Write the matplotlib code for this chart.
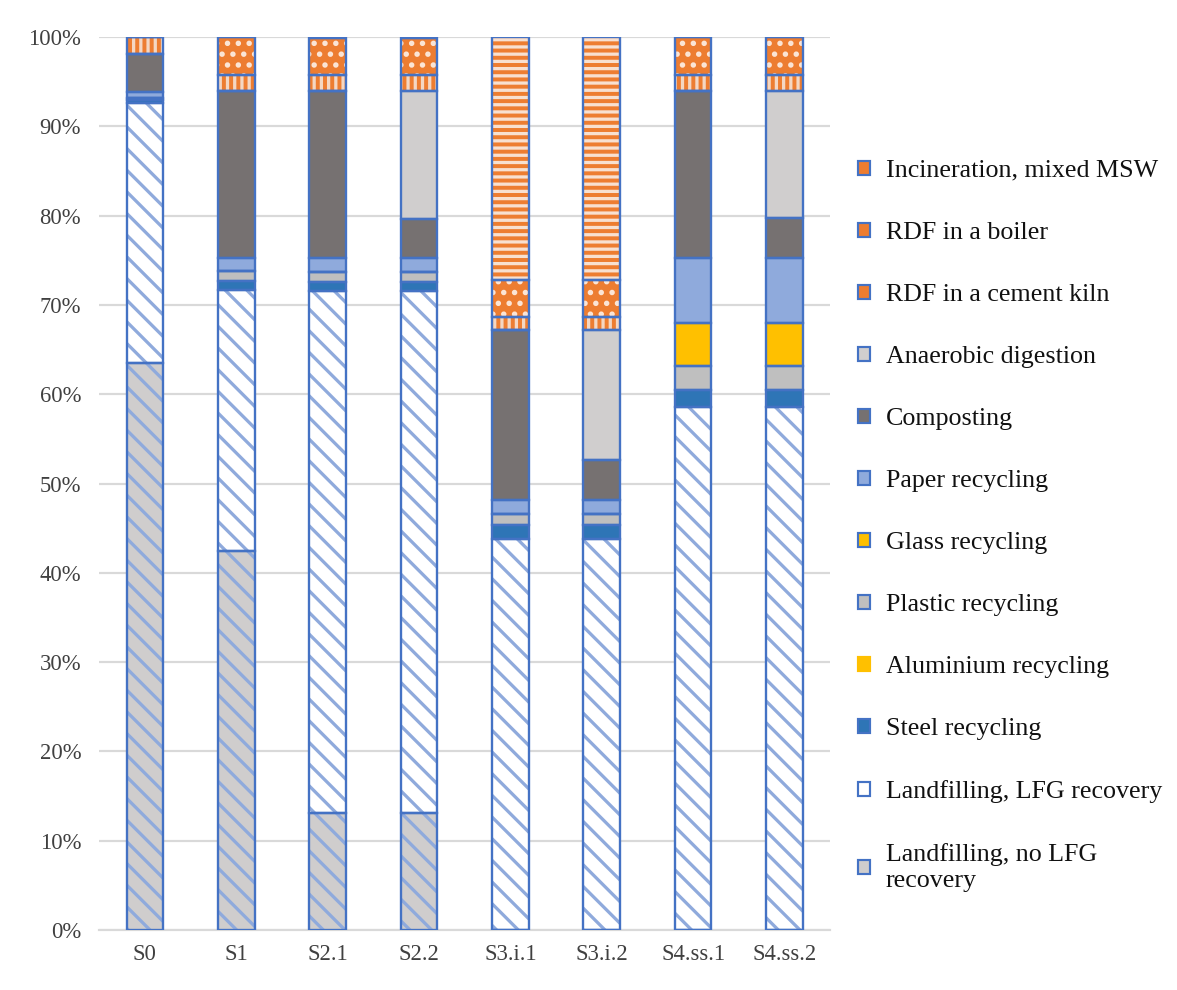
import matplotlib
matplotlib.use("Agg")
import matplotlib.pyplot as plt
from matplotlib.patches import Patch
import numpy as np

scenarios = ["S0", "S1", "S2.1", "S2.2", "S3.i.1", "S3.i.2", "S4.ss.1", "S4.ss.2"]

# shares in % (bottom to top)
landfill_no_lfg = [63.5, 42.4, 13.1, 13.1, 0.0, 0.0, 0.0, 0.0]
landfill_lfg    = [29.1, 29.3, 58.5, 58.5, 43.8, 43.8, 58.6, 58.6]
steel           = [0.3, 1.0, 1.0, 1.0, 1.6, 1.6, 1.9, 1.9]
aluminium       = [0.0, 0.0, 0.0, 0.0, 0.0, 0.0, 0.0, 0.0]
plastic         = [0.3, 1.1, 1.1, 1.1, 1.2, 1.2, 2.7, 2.7]
glass           = [0.0, 0.0, 0.0, 0.0, 0.0, 0.0, 4.8, 4.8]
paper           = [0.6, 1.5, 1.5, 1.5, 1.6, 1.6, 7.3, 7.3]
composting      = [4.3, 18.7, 18.7, 4.4, 19.0, 4.4, 18.7, 4.4]
anaerobic       = [0.0, 0.0, 0.0, 14.3, 0.0, 14.6, 0.0, 14.3]
rdf_kiln        = [1.9, 1.8, 1.8, 1.8, 1.5, 1.5, 1.8, 1.8]
rdf_boiler      = [0.0, 4.2, 4.2, 4.2, 4.1, 4.1, 4.2, 4.2]
incineration    = [0.0, 0.0, 0.0, 0.0, 27.2, 27.2, 0.0, 0.0]

series_labels = [
    "Landfilling, no LFG\nrecovery", "Landfilling, LFG recovery", "Steel recycling",
    "Aluminium recycling", "Plastic recycling", "Glass recycling", "Paper recycling",
    "Composting", "Anaerobic digestion", "RDF in a cement kiln", "RDF in a boiler",
    "Incineration, mixed MSW",
]
series_values = [landfill_no_lfg, landfill_lfg, steel, aluminium, plastic, glass, paper,
                 composting, anaerobic, rdf_kiln, rdf_boiler, incineration]

EDGE = "#4472C4"
# (face, hatch, hatch colour, outline)
styles = [
    ("#CFCDCD", "\\\\", "#8FAADC", True),
    ("#FFFFFF", "\\\\", "#8FAADC", True),
    ("#2E75B6", None, None, True),
    ("#FFC000", None, None, False),
    ("#BFBFBF", None, None, True),
    ("#FFC000", None, None, True),
    ("#8FAADC", None, None, True),
    ("#767171", None, None, True),
    ("#D0CECE", None, None, True),
    ("#ED7D31", "|||", "#F4D7C3", True),
    ("#ED7D31", "..", "#FBE5D6", True),
    ("#ED7D31", "---", "#F8E0D0", True),
]

plt.rcParams["font.family"] = ["Liberation Serif", "DejaVu Serif"]
plt.rcParams["hatch.linewidth"] = 1.8

DPI = 130
fig = plt.figure(figsize=(1177 / DPI, 990 / DPI), dpi=DPI)
ax = fig.add_axes([0.0843, 0.0606, 0.621, 0.902])

x = np.arange(len(scenarios))
width = 0.40
bottom = np.zeros(len(scenarios))
for vals, (face, hatch, hcol, outline) in zip(series_values, styles):
    v = np.array(vals, dtype=float)
    if hatch:
        ax.bar(x, v, width, bottom=bottom, color=face, hatch=hatch,
               edgecolor=hcol, linewidth=0, zorder=2)
    else:
        ax.bar(x, v, width, bottom=bottom, color=face, linewidth=0, zorder=2)
    if outline:
        ax.bar(x, v, width, bottom=bottom, fill=False, edgecolor=EDGE,
               linewidth=1.3, zorder=3)
    bottom += v

ax.set_xlim(-0.5, len(scenarios) - 0.5)
ax.set_ylim(0, 100)
ax.set_yticks(np.arange(0, 101, 10))
ax.set_yticklabels([f"{t}%" for t in range(0, 101, 10)])
ax.set_xticks(x)
ax.set_xticklabels(scenarios)
ax.tick_params(axis="both", length=0, labelsize=12.5, colors="#404040", pad=8)
ax.tick_params(axis="y", pad=10)
ax.yaxis.grid(True, color="#D9D9D9", linewidth=1.2, zorder=0)
ax.set_axisbelow(True)
for s in ["left", "right", "top"]:
    ax.spines[s].set_visible(False)
ax.spines["bottom"].set_color("#D9D9D9")
ax.spines["bottom"].set_linewidth(1.2)

handles = []
for (face, hatch, hcol, outline) in styles:
    handles.append(Patch(facecolor=face, edgecolor=EDGE if outline else face, linewidth=1.2))
fig.legend(handles[::-1], series_labels[::-1], loc="center left",
           bbox_to_anchor=(0.7095, 0.469), frameon=False, fontsize=14.4,
           labelspacing=1.54, handlelength=0.45, handleheight=0.45, handletextpad=0.6,
           labelcolor="#111111")

fig.savefig("out.png", dpi=DPI)
